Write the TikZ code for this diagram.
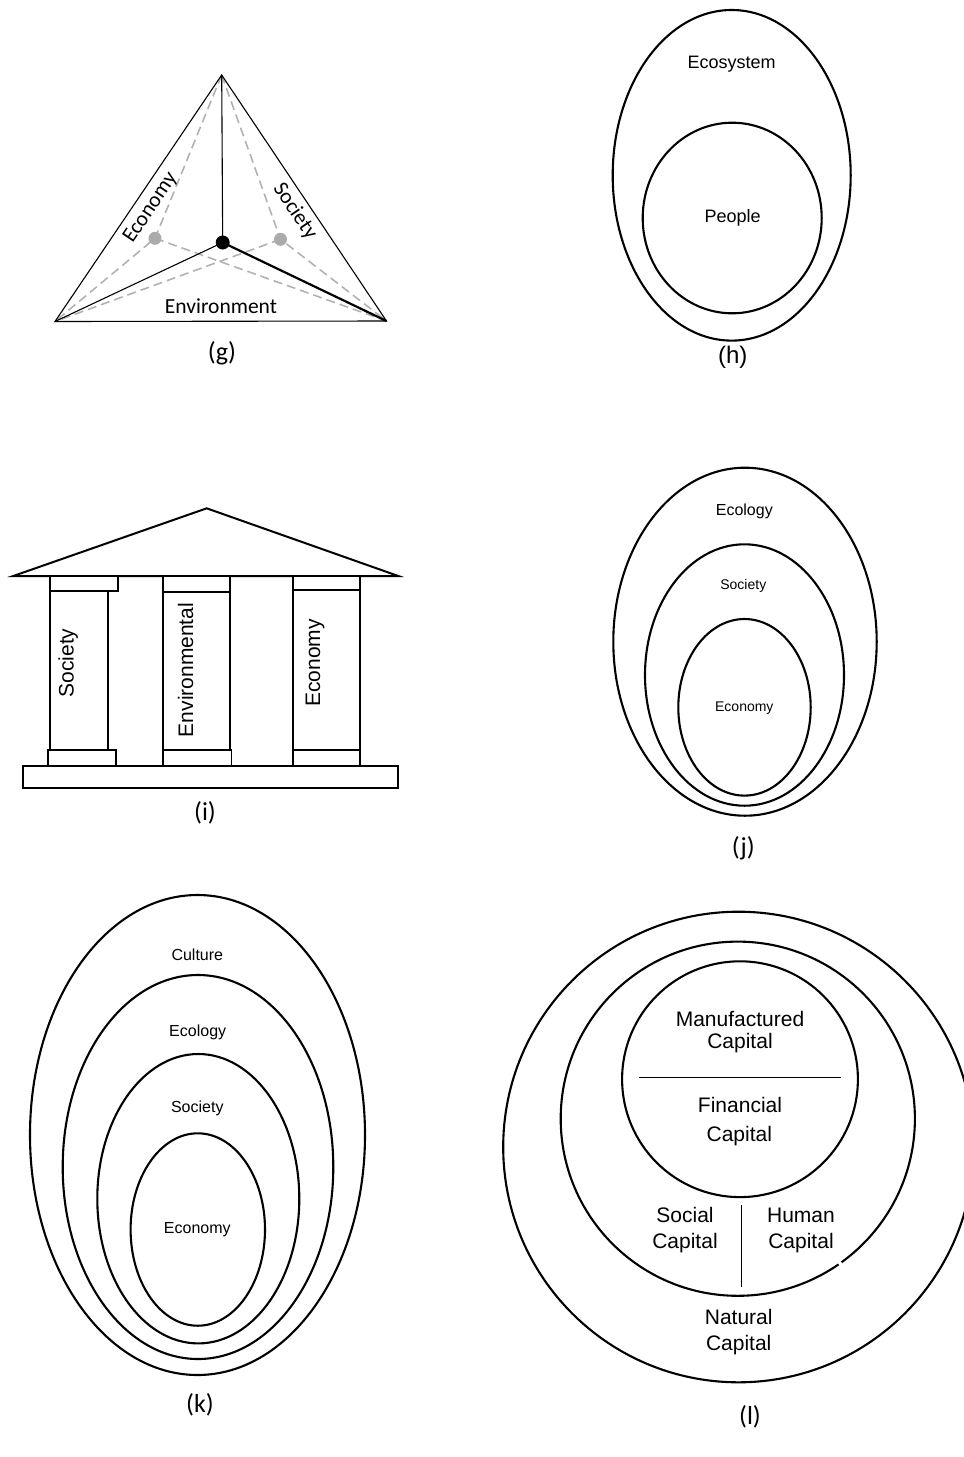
\documentclass[tikz,border=0pt]{standalone}
\usepackage{fontspec}
\setmainfont{Liberation Sans}
\newfontfamily\calfnt{Carlito}
\begin{document}
\begin{tikzpicture}[x=1pt,y=-1pt,
  ring/.style={line width=2.1pt},
  thinl/.style={line width=1.1pt},
  gdash/.style={draw=black!30, line width=1.6pt, dash pattern=on 9pt off 5pt},
  dotb/.style={circle, fill=black, inner sep=0pt, minimum size=14pt},
  dotg/.style={circle, fill=black!33, inner sep=0pt, minimum size=13pt},
  blk/.style={draw, line width=1.9pt, fill=white},
  lab/.style={inner sep=0pt, font=\calfnt\fontsize{21.5}{25}\selectfont},
  arl/.style={inner sep=0pt, font=\fontsize{#1}{#1}\selectfont},
  capt/.style={inner sep=0pt, font=\calfnt\fontsize{26}{30}\selectfont}
]
\useasboundingbox (0,0) rectangle (964,1457);

% ---------------- (g) ----------------
\coordinate (gA) at (221.7,75);
\coordinate (gBL) at (55,321.5);
\coordinate (gBR) at (386.5,321);
\coordinate (gLc) at (155,238.3);
\coordinate (gRc) at (280.5,239.3);
\draw[gdash] (gA) -- (gLc) -- (gBL);
\draw[gdash] (gLc) -- (gBR);
\draw[gdash] (gA) -- (gRc) -- (gBR);
\draw[gdash] (gRc) -- (gBL);
\draw[thinl] (gA) -- (gBL) -- (gBR) -- cycle;
\node[dotg] (gL) at (gLc) {};
\node[dotg] (gR) at (gRc) {};
\node[dotb] (gC) at (222.7,242.5) {};
\draw[thinl] (gA) -- (gC.center);
\draw[thinl] (gC.center) -- (gBL);
\draw[line width=2.2pt] (gC.center) -- (gBR);
\node[lab, rotate=56] (gEco) at (150.7,208) {Economy};
\node[lab, rotate=-56] (gSoc) at (295,211.5) {Society};
\node[lab] (gEnv) at (221,306) {Environment};
\node[capt] (gcap) at (222,353) {(g)};

% ---------------- (h) ----------------
\draw[ring] (731.7,175.3) ellipse [x radius=119, y radius=165.3];
\draw[ring] (732.2,218) ellipse [x radius=89.5, y radius=95.3];
\node[arl=18] (hEco) at (731.7,64) {Ecosystem};
\node[arl=18] (hPeo) at (732.7,218) {People};
\node[arl=24] (hcap) at (732.7,357) {(h)};

% ---------------- (i) ----------------
\draw[line width=2pt, line join=miter] (13.3,576) -- (206.7,508.3) -- (398.3,576) -- cycle;
\draw[blk] (23.3,766) rectangle (398.3,788.3);
% columns
\draw[blk] (50,590.7) rectangle (107.7,750);
\draw[blk] (163.3,592) rectangle (230,750);
\draw[blk] (292.7,590) rectangle (360,750);
% capitals
\draw[blk] (50,576) rectangle (118.3,590.7);
\draw[blk] (163.3,576) rectangle (230,592);
\draw[blk] (292.7,576) rectangle (360,590);
% bases
\draw[blk] (47.7,750) rectangle (115.7,766);
\draw[blk] (163.3,750) rectangle (231.5,766);
\draw[blk] (292.7,750) rectangle (360,766);
\node[arl=21, rotate=90] (iSoc) at (68.3,663) {Society};
\node[arl=21, rotate=90] (iEnv) at (185.5,670) {Environmental};
\node[arl=21, rotate=90] (iEco) at (315,663) {Economy};
\node[capt] (icap) at (205,813) {(i)};

% ---------------- (j) ----------------
\draw[ring] (745,641.7) ellipse [x radius=131.7, y radius=174];
\draw[ring] (744.5,675) ellipse [x radius=99.5, y radius=130.7];
\draw[ring] (744.5,707.3) ellipse [x radius=66.2, y radius=88.3];
\node[arl=16] (jEcol) at (744.3,511.7) {Ecology};
\node[arl=14] (jSoc) at (743.3,586) {Society};
\node[arl=14] (jEco) at (744.3,708) {Economy};
\node[capt] (jcap) at (743.3,848) {(j)};

% ---------------- (k) ----------------
\draw[ring] (197.5,1135) ellipse [x radius=167.5, y radius=240];
\draw[ring] (198,1167) ellipse [x radius=135.3, y radius=192];
\draw[ring] (198.3,1198.7) ellipse [x radius=101, y radius=144.7];
\draw[ring] (197.8,1229.5) ellipse [x radius=67.2, y radius=96.2];
\node[arl=16] (kCul) at (197.3,955) {Culture};
\node[arl=16] (kEcol) at (197.7,1032.7) {Ecology};
\node[arl=16] (kSoc) at (197.3,1108.3) {Society};
\node[arl=16] (kEco) at (197.3,1229.3) {Economy};
\node[capt] (kcap) at (200,1405) {(k)};

% ---------------- (l) ----------------
\draw[ring] (738.5,1147) circle [radius=235.3];
\draw[ring] (737.8,1118.7) circle [radius=177.1];
\draw[white, line width=3pt] (737.8,1118.7) ++(54.2:177.1) arc [start angle=54.2, end angle=55.3, radius=177.1];
\draw[ring] (740,1079.2) circle [radius=117.9];
\coordinate (lh1) at (639,1077.3);
\coordinate (lh2) at (840.7,1077.3);
\draw[line width=1.3pt] (lh1) -- (lh2);
\coordinate (lv1) at (741.7,1205);
\coordinate (lv2) at (741.7,1286.7);
\draw[line width=1.3pt] (lv1) -- (lv2);
\node[arl=21, align=center] (lMan) at (740,1032.5) {Manufactured\\[1pt]Capital};
\node[arl=21] (lFin) at (740,1105) {Financial};
\node[arl=21] (lFin2) at (739.3,1135.7) {Capital};
\node[arl=21, align=center] (lSoc) at (685,1230) {Social\\[5pt]Capital};
\node[arl=21, align=center] (lHum) at (801,1230) {Human\\[5pt]Capital};
\node[arl=21, align=center] (lNat) at (738.7,1331.7) {Natural\\[5pt]Capital};
\node[capt] (lcap) at (750,1416.7) {(l)};
\end{tikzpicture}
\end{document}
